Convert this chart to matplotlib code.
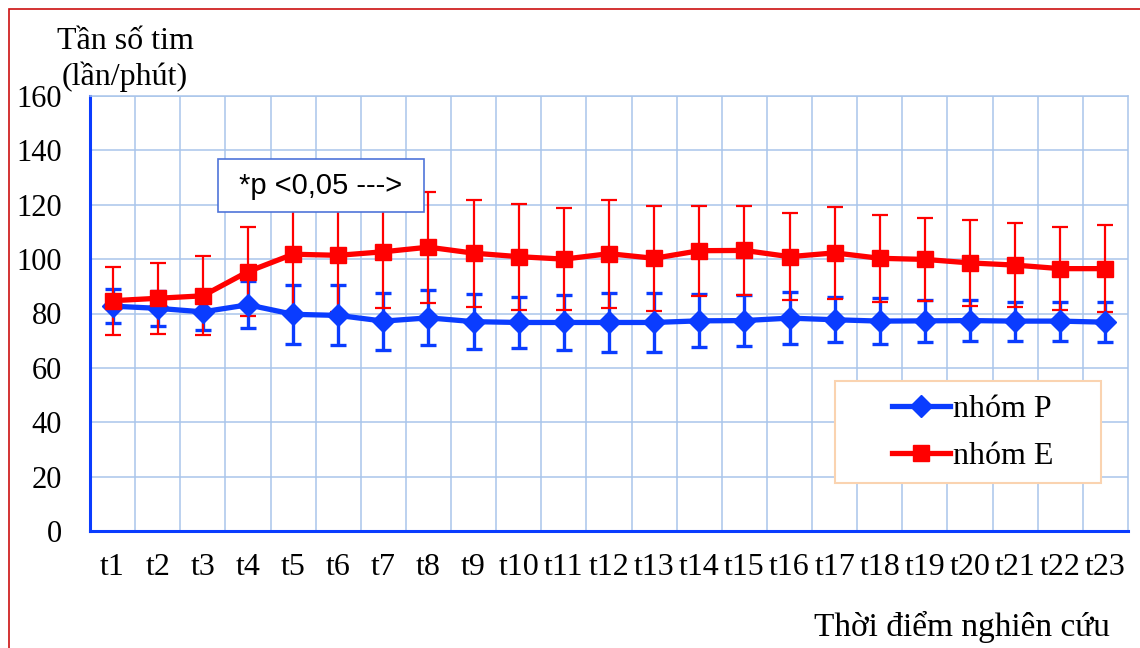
import matplotlib
matplotlib.use("Agg")
import matplotlib.pyplot as plt
from matplotlib.patches import Rectangle
from matplotlib.lines import Line2D

# time points
labels = ["t1", "t2", "t3", "t4", "t5", "t6", "t7", "t8", "t9", "t10", "t11", "t12",
          "t13", "t14", "t15", "t16", "t17", "t18", "t19", "t20", "t21", "t22", "t23"]

# group P (blue) mean / SD
p_mean = [82.7, 81.9, 80.6, 83.2, 79.7, 79.3, 77.2, 78.4, 77.0, 76.7, 76.7, 76.7,
          76.7, 77.3, 77.4, 78.3, 77.7, 77.2, 77.3, 77.4, 77.2, 77.2, 76.8]
p_sd = [6.3, 6.4, 6.6, 8.7, 10.9, 11.0, 10.5, 10.1, 10.2, 9.5, 10.0, 10.7,
        11.0, 9.7, 9.3, 9.6, 8.3, 8.5, 7.8, 7.4, 7.2, 7.2, 7.3]

# group E (red) mean / SD
e_mean = [84.7, 85.6, 86.5, 95.4, 101.8, 101.4, 102.7, 104.4, 102.2, 100.9, 100.0, 102.0,
          100.3, 103.1, 103.2, 100.9, 102.3, 100.3, 99.9, 98.6, 97.8, 96.5, 96.5]
e_sd = [12.5, 13.0, 14.5, 16.4, 21.0, 21.0, 20.7, 20.4, 19.7, 19.5, 18.8, 19.8,
        19.4, 16.6, 16.3, 16.0, 16.8, 16.0, 15.3, 15.8, 15.5, 15.3, 16.0]

BLUE = "#0A3CFF"
RED = "#FF0000"
GRID = "#A9C5EB"

plt.rcParams["font.family"] = ["Liberation Serif", "DejaVu Serif"]

W, H = 1140, 648
fig = plt.figure(figsize=(11.4, 6.48), dpi=100)
ax = fig.add_axes([90 / W, 1 - 531 / H, 1038 / W, 435 / H])

x = list(range(len(labels)))

ax.errorbar(x, p_mean, yerr=p_sd, fmt="none", ecolor=BLUE, elinewidth=2.4,
            capsize=5.5, capthick=2.4, zorder=2)
ax.errorbar(x, e_mean, yerr=e_sd, fmt="none", ecolor=RED, elinewidth=1.6,
            capsize=5.5, capthick=1.6, zorder=3)
ax.plot(x, p_mean, color=BLUE, lw=3.8, marker="D", ms=11.5, zorder=4)
ax.plot(x, e_mean, color=RED, lw=3.8, marker="s", ms=12, zorder=5)

ax.set_xlim(-0.5, len(labels) - 0.5)
ax.set_ylim(0, 160)
ax.set_yticks(range(0, 161, 20))
ax.set_xticks(x)
ax.set_xticklabels(labels)
ax.set_xticks([i + 0.5 for i in x[:-1]], minor=True)
ax.grid(axis="y", which="major", color=GRID, lw=1.1)
ax.grid(axis="x", which="minor", color=GRID, lw=1.1)
ax.set_axisbelow(True)
ax.tick_params(axis="both", which="both", length=0)
ax.tick_params(axis="y", pad=20, labelsize=22)
ax.tick_params(axis="x", pad=16, labelsize=23)

for side in ("top", "right"):
    ax.spines[side].set_color(GRID)
    ax.spines[side].set_linewidth(1.1)
for side in ("left", "bottom"):
    ax.spines[side].set_color(BLUE)
    ax.spines[side].set_linewidth(2.2)

# axis titles
fig.text(125 / W, 1 - 49 / H, "Tần số tim", ha="center", va="baseline", fontsize=23)
fig.text(125 / W, 1 - 85 / H, "(lần/phút)", ha="center", va="baseline", fontsize=23)
fig.text(1110 / W, 1 - 636 / H, "Thời điểm nghiên cứu", ha="right", va="baseline", fontsize=24)

# significance note
fig.add_artist(Rectangle((218 / W, 1 - 212 / H), 206 / W, 53 / H, transform=fig.transFigure,
                         facecolor="white", edgecolor="#4F74D9", lw=1.2, zorder=6))
fig.text(321 / W, 1 - 186 / H, "*p <0,05 --->", ha="center", va="center",
         family=["Liberation Sans", "DejaVu Sans"], fontsize=21, zorder=7)

# legend
fig.add_artist(Rectangle((835 / W, 1 - 483 / H), 266 / W, 102 / H, transform=fig.transFigure,
                         facecolor="white", edgecolor="#FAD3B0", lw=1.5, zorder=6))
handles = [Line2D([], [], color=BLUE, lw=3.8, marker="D", ms=11.5),
           Line2D([], [], color=RED, lw=3.8, marker="s", ms=12)]
leg = fig.legend(handles, ["nhóm P", "nhóm E"], loc="center",
                 bbox_to_anchor=(973 / W, 1 - 433 / H), frameon=False, fontsize=23,
                 handlelength=1.8, handletextpad=0.1, labelspacing=0.55, borderpad=0)
leg.set_zorder(8)

# outer border of the original picture
fig.add_artist(Rectangle((9 / W, -0.5), 2, 1.5 - 9 / H, transform=fig.transFigure,
                         fill=False, edgecolor="#CC1010", lw=1.2))

fig.savefig("out.png", dpi=100)
